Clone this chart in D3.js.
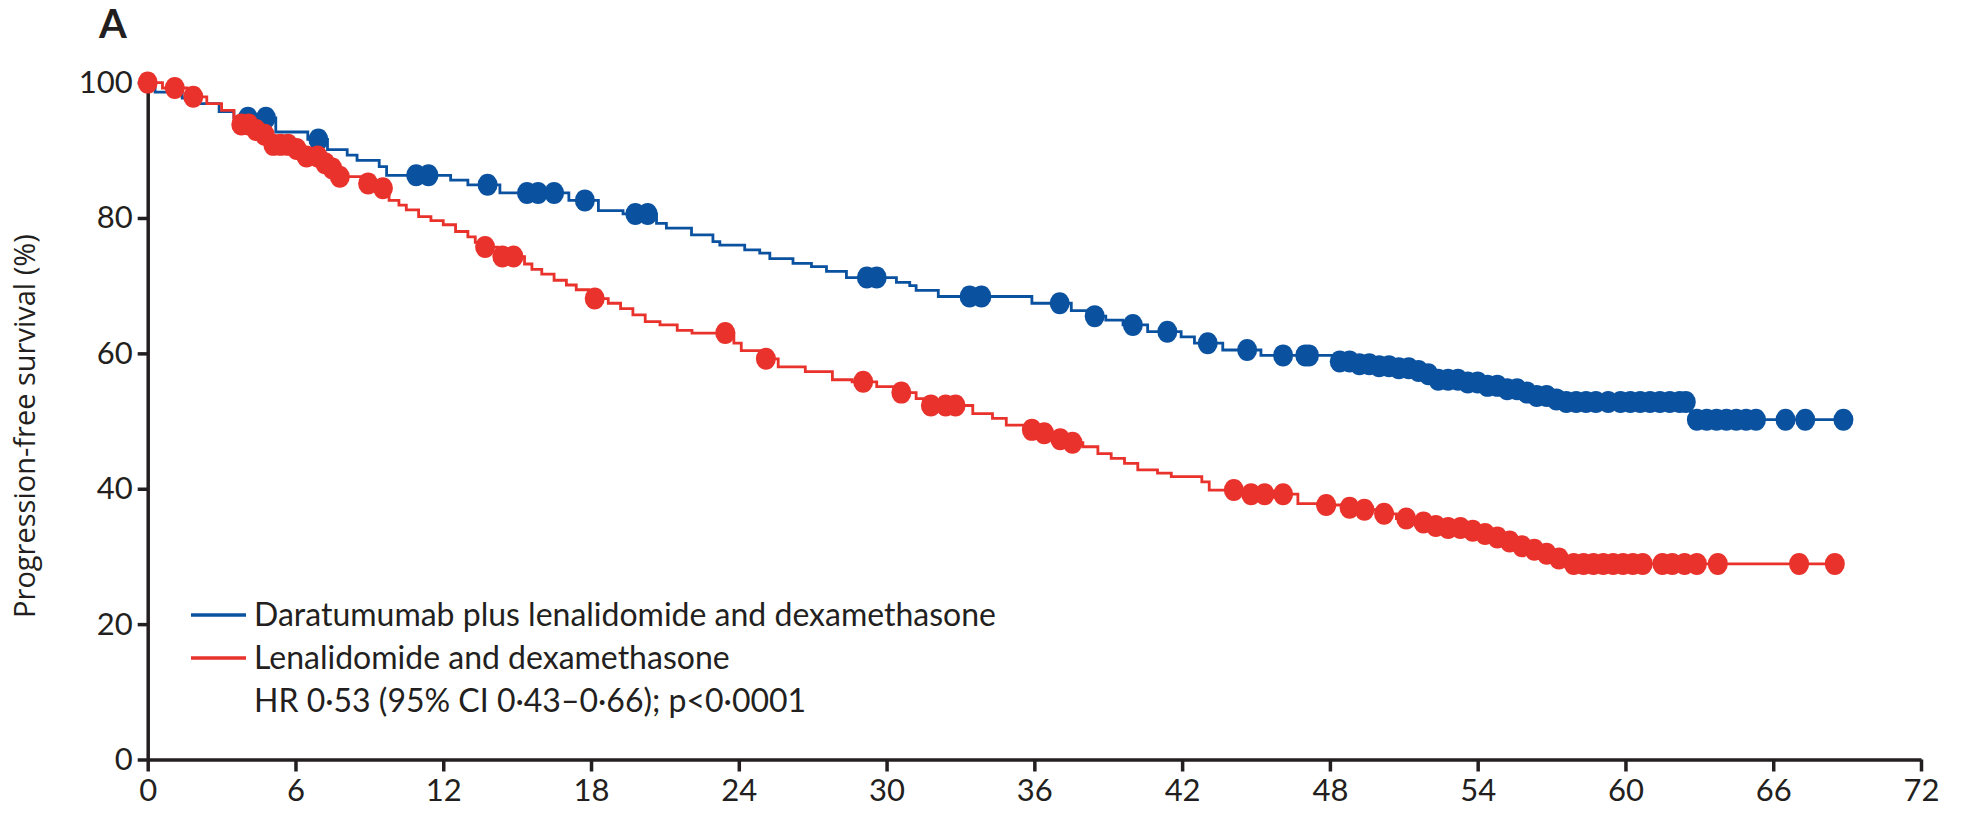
<!DOCTYPE html>
<html>
<head>
<meta charset="utf-8">
<script src="https://cdn.jsdelivr.net/npm/d3@7/dist/d3.min.js"></script>
<style>
  html, body { margin: 0; padding: 0; background: #ffffff; }
  svg { display: block; }
  .tick text { font-family: Lato, "Liberation Sans", sans-serif; fill: #231f20; }
</style>
</head>
<body>
<svg id="chart" width="1962" height="813"></svg>
<script>
// Kaplan-Meier progression-free survival, two treatment arms (months, %)

const xTicks = [0, 6, 12, 18, 24, 30, 36, 42, 48, 54, 60, 66, 72];
const yTicks = [0, 20, 40, 60, 80, 100];

const armLabels = [
  "Daratumumab plus lenalidomide and dexamethasone",
  "Lenalidomide and dexamethasone"
];
const statsLabel = "HR 0·53 (95% CI 0·43–0·66); p<0·0001";

// Daratumumab + lenalidomide + dexamethasone: event times and survival after each event
const drdEventMonths = [0.3, 1.4, 2.1, 2.9, 3.5, 5.2, 6.5, 7.3, 8.1, 8.5, 9.4, 9.7, 12.3, 13.0, 14.3,
  17.1, 18.3, 19.3, 20.66, 21.06, 22.08, 22.95, 23.23, 24.24, 24.85, 25.26, 26.2, 26.95, 27.56, 28.37,
  30.4, 30.94, 31.2, 32.1, 35.9, 37.5, 38.2, 38.9, 39.6, 40.6, 41.96, 42.5, 43.65, 45.2, 48.2, 48.9,
  49.8, 50.7, 51.4, 51.9, 52.3, 53.4, 54.4, 55.1, 55.7, 56.3, 56.9, 57.4, 62.65];
const drdSurvival = [98.6, 97.7, 96.9, 95.7, 94.8, 92.7, 91.6, 90.1, 89.3, 88.5, 87.6, 86.3, 85.6, 84.9, 83.7,
  82.6, 81.1, 80.6, 79.2, 78.5, 77.5, 76.5, 76.0, 75.3, 74.8, 74.0, 73.3, 72.8, 72.1, 71.2,
  70.5, 70.0, 69.3, 68.4, 67.4, 66.3, 65.5, 64.9, 64.2, 63.2, 62.45, 61.5, 60.5, 59.7, 58.8, 58.4,
  58.1, 57.8, 57.4, 56.9, 56.1, 55.7, 55.2, 54.7, 54.2, 53.7, 53.2, 52.8, 50.2];
const drdCensorMonths = [4.07, 4.8, 6.93, 10.9, 11.4, 13.8, 15.4, 15.85, 16.5, 17.75, 19.8, 20.3, 29.2, 29.6,
  33.37, 33.85, 37.03, 38.45, 40.0, 41.4, 43.04, 44.64, 46.1, 47.0, 47.15, 48.4, 48.8, 49.2, 49.6, 50.0,
  50.4, 50.8, 51.2, 51.6, 52.0, 52.4, 52.8, 53.2, 53.6, 54.0, 54.4, 54.8, 55.2, 55.6, 56.0, 56.4, 56.8,
  57.2, 57.6, 58.0, 58.4, 58.8, 59.3, 59.8, 60.2, 60.6, 61.0, 61.4, 61.8, 62.2, 62.45, 62.9, 63.3, 63.7,
  64.1, 64.5, 64.9, 65.3, 66.5, 67.3, 68.85];

// Lenalidomide + dexamethasone
const rdEventMonths = [0.6, 1.6, 2.4, 3.0, 3.5, 3.7, 4.3, 4.65, 5.0, 5.9, 6.3, 7.0, 7.4, 7.7, 8.8, 9.4, 9.8,
  10.2, 10.5, 11.0, 11.5, 12.0, 12.5, 13.0, 13.3, 13.6, 14.2, 15.3, 15.6, 16.0, 16.5, 17.0, 17.4, 17.9,
  18.7, 19.2, 19.7, 20.2, 20.8, 21.5, 22.1, 23.8, 24.1, 24.9, 25.6, 26.7, 27.8, 28.6, 29.6, 30.3, 31.2,
  31.5, 33.5, 34.3, 34.86, 35.6, 36.3, 36.9, 37.4, 37.97, 38.58, 39.12, 39.66, 40.2, 41.0, 41.56, 42.8,
  43.1, 44.5, 46.7, 47.5, 48.6, 49.2, 49.9, 50.7, 51.3, 51.9, 52.6, 53.4, 54.0, 54.6, 55.1, 55.6, 56.1,
  56.8, 57.3, 57.8];
const rdSurvival = [99.2, 97.9, 96.9, 95.9, 94.8, 93.8, 93.0, 92.3, 90.8, 90.2, 89.1, 88.1, 87.3, 86.1, 85.1, 84.4, 82.6,
  81.9, 81.2, 80.2, 79.6, 79.0, 78.0, 77.2, 76.4, 75.7, 74.3, 73.2, 72.4, 71.7, 70.8, 70.1, 69.4, 68.1,
  67.4, 66.6, 65.7, 64.7, 64.2, 63.4, 63.0, 61.5, 60.4, 59.2, 58.0, 57.3, 56.1, 55.8, 55.1, 54.2, 53.3,
  52.3, 51.1, 50.4, 49.4, 48.7, 48.2, 47.3, 46.8, 46.2, 45.2, 44.5, 43.75, 42.8, 42.3, 41.8, 41.0,
  39.8, 39.2, 37.8, 37.6, 37.2, 36.9, 36.3, 35.6, 35.0, 34.5, 34.2, 33.8, 33.3, 32.8, 32.2, 31.5, 31.0,
  30.4, 29.7, 28.9];
const rdCensorMonths = [0, 1.1, 1.85, 3.8, 4.1, 4.4, 4.75, 5.1, 5.4, 5.7, 6.05, 6.45, 6.9, 7.2, 7.5, 7.8,
  8.95, 9.55, 13.7, 14.4, 14.85, 18.15, 23.45, 25.1, 29.05, 30.6, 31.8, 32.4, 32.8, 35.9, 36.4, 37.05,
  37.55, 44.1, 44.8, 45.35, 46.1, 47.85, 48.8, 49.4, 50.2, 51.1, 51.8, 52.3, 52.8, 53.3, 53.8, 54.3,
  54.8, 55.3, 55.8, 56.3, 56.8, 57.3, 57.9, 58.3, 58.7, 59.1, 59.5, 59.9, 60.3, 60.7, 61.5, 61.9, 62.4,
  62.9, 63.75, 67.05, 68.5];

const blue = "#0a52a0";
const red = "#e8322b";
const ink = "#231f20";

const svg = d3.select("#chart");

const x = d3.scaleLinear().domain([0, 72]).range([147.7, 1921]);
const y = d3.scaleLinear().domain([0, 100]).range([759.5, 82.6]);

// Step function value at time t
function survivalAt(times, surv, t) {
  const i = d3.bisectRight(times, t);
  return i === 0 ? 100 : surv[i - 1];
}

function curvePoints(times, surv, censors) {
  const end = d3.max(censors);
  const pts = [[0, 100]];
  times.forEach((t, i) => pts.push([t, surv[i]]));
  pts.push([end, surv[surv.length - 1]]);
  return pts;
}

const arms = [
  { times: drdEventMonths, surv: drdSurvival, censors: drdCensorMonths, color: blue },
  { times: rdEventMonths, surv: rdSurvival, censors: rdCensorMonths, color: red }
];

const line = d3.line()
  .x(d => x(d[0]))
  .y(d => y(d[1]))
  .curve(d3.curveStepAfter);

// Axes
const yAxis = svg.append("g")
  .attr("transform", `translate(${x(0)},0)`)
  .call(d3.axisLeft(y).tickValues(yTicks).tickSize(10).tickSizeOuter(0).tickPadding(5));
const xAxis = svg.append("g")
  .attr("transform", `translate(0,${y(0)})`)
  .call(d3.axisBottom(x).tickValues(xTicks).tickSize(12).tickSizeOuter(0).tickPadding(7));

[yAxis, xAxis].forEach(g => {
  g.select(".domain").attr("stroke", ink).attr("stroke-width", 3.5);
  g.selectAll(".tick line").attr("stroke", ink).attr("stroke-width", 3.5);
  g.selectAll(".tick text").attr("font-size", 31);
});

// Curves and censor marks
arms.forEach(arm => {
  const g = svg.append("g");
  g.append("path")
    .datum(curvePoints(arm.times, arm.surv, arm.censors))
    .attr("fill", "none")
    .attr("stroke", arm.color)
    .attr("stroke-width", 2.8)
    .attr("d", line);
  g.selectAll("ellipse")
    .data(arm.censors)
    .join("ellipse")
    .attr("cx", t => x(t))
    .attr("cy", t => y(survivalAt(arm.times, arm.surv, t)))
    .attr("rx", 10)
    .attr("ry", 11)
    .attr("fill", arm.color);
});

// Panel letter
svg.append("text")
  .attr("x", 99).attr("y", 38)
  .attr("font-family", "Lato, 'Liberation Sans', sans-serif")
  .attr("font-weight", "bold")
  .attr("font-size", 40)
  .attr("fill", ink)
  .text("A");

// Y axis title
svg.append("text")
  .attr("transform", `translate(25,${(y(0) + y(100)) / 2 + 5}) rotate(-90)`)
  .attr("text-anchor", "middle")
  .attr("dy", "0.35em")
  .attr("font-family", "'Open Sans', 'Noto Sans', sans-serif")
  .attr("font-size", 29)
  .attr("fill", ink)
  .text("Progression-free survival (%)");

// Legend
const legend = svg.append("g").attr("font-family", "Lato, 'Liberation Sans', sans-serif")
  .attr("font-size", 32).attr("fill", ink);
[blue, red].forEach((c, i) => {
  legend.append("line")
    .attr("x1", 191).attr("x2", 246)
    .attr("y1", 615 + i * 43).attr("y2", 615 + i * 43)
    .attr("stroke", c).attr("stroke-width", 3.5);
  legend.append("text")
    .attr("x", 254).attr("y", 626 + i * 43)
    .text(armLabels[i]);
});
legend.append("text")
  .attr("x", 254).attr("y", 712)
  .text(statsLabel);
</script>
</body>
</html>
